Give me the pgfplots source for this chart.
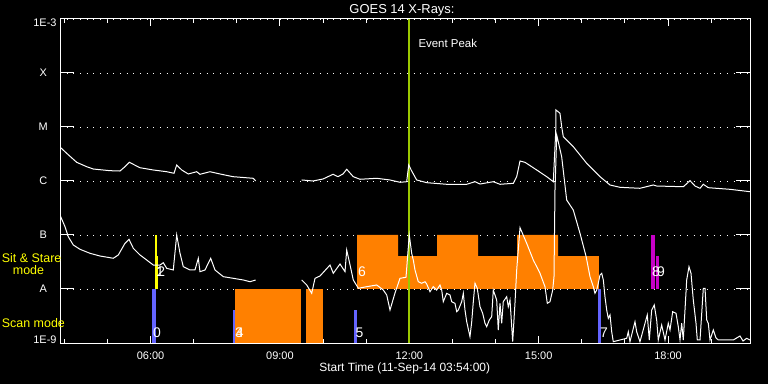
\documentclass[border=0pt]{standalone}
\usepackage{pgfplots}
\pgfplotsset{compat=1.18}
\usepackage{fontspec}
\setmainfont{Liberation Sans}
\definecolor{orng}{RGB}{255,128,0}
\definecolor{scanblue}{RGB}{100,100,255}
\definecolor{ssyellow}{RGB}{255,255,0}
\definecolor{mag}{RGB}{200,0,200}
\definecolor{evt}{RGB}{155,200,0}
\newcommand{\lab}[1]{\makebox[26.5bp][c]{#1}}
\begin{document}
\begin{tikzpicture}
\fill[black] (0,0) rectangle (768bp,384bp);
\begin{axis}[
  at={(60bp,41bp)}, anchor=south west,
  scale only axis, width=690bp, height=324bp,
  xmin=3.9, xmax=19.9, ymin=-9, ymax=-3,
  axis line style={white, line width=1bp},
  tick style={white, line width=1bp},
  xtick={6,9,12,15,18},
  xticklabels={06:00,09:00,12:00,15:00,18:00},
  minor xtick={4,5,7,8,10,11,13,14,16,17,19},
  xtick style={/pgfplots/major tick length=7bp, /pgfplots/minor tick length=4bp},
  ytick={-9,-8,-7,-6,-5,-4,-3},
  yticklabels={,\lab{A},\lab{B},\lab{C},\lab{M},\lab{X},},
  ytick style={/pgfplots/major tick length=14bp},
  ymajorgrids,
  grid style={white, line width=0.9bp, dash pattern=on 0.9bp off 5.77bp},
  ticklabel style={text=white, font=\fontsize{11}{13}\selectfont},
  xticklabel style={anchor=center, yshift=-12.7bp},
  yticklabel style={anchor=east, inner sep=0pt, xshift=-3.3bp},
  /pgf/number format/assume math mode=true,
  unbounded coords=jump,
]
% Scan-mode orange blocks
\addplot[fill=orng, draw=none] coordinates {(7.958,-9) (9.488,-9) (9.488,-8) (7.958,-8)} -- cycle;
\addplot[fill=orng, draw=none] coordinates {(9.604,-9) (9.999,-9) (9.999,-8) (9.604,-8)} -- cycle;
% Sit & Stare orange staircase
\addplot[fill=orng, draw=none] coordinates {(10.787,-8) (10.787,-7) (11.738,-7) (11.738,-7.39) (12.642,-7.39) (12.642,-7) (13.593,-7) (13.593,-7.39) (14.497,-7.39) (14.497,-7) (15.448,-7) (15.448,-7.39) (16.398,-7.39) (16.398,-8)} -- cycle;
% Scan blue bars
\addplot[fill=scanblue, draw=none] coordinates {(6.033,-9) (6.126,-9) (6.126,-8) (6.033,-8)} -- cycle;
\addplot[fill=scanblue, draw=none] coordinates {(7.912,-9) (7.958,-9) (7.958,-8.389) (7.912,-8.389)} -- cycle;
\addplot[fill=scanblue, draw=none] coordinates {(10.717,-9) (10.780,-9) (10.780,-8.389) (10.717,-8.389)} -- cycle;
\addplot[fill=scanblue, draw=none] coordinates {(16.375,-9) (16.438,-9) (16.438,-8) (16.375,-8)} -- cycle;
% Sit & Stare yellow bars
\addplot[fill=ssyellow, draw=none] coordinates {(6.103,-8) (6.140,-8) (6.140,-7) (6.103,-7)} -- cycle;
\addplot[fill=ssyellow, draw=none] coordinates {(6.140,-8) (6.170,-8) (6.170,-7.39) (6.140,-7.39)} -- cycle;
% magenta bars
\addplot[fill=mag, draw=none] coordinates {(17.604,-8) (17.690,-8) (17.690,-7) (17.604,-7)} -- cycle;
\addplot[fill=mag, draw=none] coordinates {(17.720,-8) (17.783,-8) (17.783,-7.39) (17.720,-7.39)} -- cycle;
% Event peak
\addplot[evt, line width=2.3bp] coordinates {(11.99,-9) (11.99,-3)};
% long channel
\addplot[white, line width=1bp] table {
3.916 -5.383
4.055 -5.487
4.287 -5.654
4.519 -5.735
4.672 -5.778
5.059 -5.809
5.291 -5.815
5.407 -5.735
5.507 -5.654
5.755 -5.754
6.063 -5.796
6.374 -5.828
6.543 -5.857
6.606 -5.704
6.722 -5.796
6.875 -5.870
7.070 -5.828
7.146 -5.876
7.378 -5.828
7.610 -5.870
7.912 -5.920
8.382 -5.950
8.438 -6.000
9.000 nan
9.505 -5.981
9.767 -6.000
9.999 -5.963
10.231 -5.876
10.346 -5.920
10.462 -5.870
10.548 -5.783
10.701 -5.920
10.856 -5.968
11.244 -5.950
11.552 -5.981
11.784 -6.024
11.939 -6.013
11.986 -5.704
12.055 -5.815
12.171 -5.981
12.403 -6.031
12.867 -6.061
13.331 -6.061
13.523 -6.013
13.639 -6.056
13.947 -6.013
14.103 -6.061
14.411 -6.043
14.490 -5.920
14.567 -5.630
14.683 -5.654
14.954 -5.796
15.186 -5.920
15.339 -6.013
15.395 -5.087
15.401 -4.685
15.494 -4.746
15.533 -4.994
15.571 -5.180
15.803 -5.365
16.113 -5.672
16.422 -5.920
16.654 -6.074
16.886 -6.117
17.349 -6.135
17.658 -6.074
17.737 -6.093
18.354 -6.106
18.509 -5.994
18.625 -6.093
18.741 -6.135
18.817 -6.061
18.933 -6.124
19.436 -6.154
19.900 -6.198
};
% short channel
\addplot[white, line width=1bp] table {
3.916 -6.661
4.016 -6.846
4.092 -7.031
4.208 -7.185
4.364 -7.265
4.596 -7.339
4.828 -7.389
5.136 -7.431
5.252 -7.370
5.407 -7.154
5.500 -7.080
5.600 -7.246
5.755 -7.370
5.910 -7.463
6.063 -7.556
6.219 -7.556
6.295 -7.513
6.374 -7.617
6.527 -7.648
6.606 -7.000
6.683 -7.339
6.759 -7.587
6.914 -7.648
7.030 -7.648
7.107 -7.431
7.146 -7.680
7.262 -7.648
7.394 -7.431
7.494 -7.648
7.687 -7.772
7.919 -7.802
8.150 -7.833
8.306 -7.865
8.438 -7.833
9.000 nan
9.505 -7.833
9.621 -7.926
9.737 -8.080
9.813 -7.802
9.929 -7.759
10.161 -7.556
10.237 -7.709
10.393 -7.537
10.509 -7.680
10.548 -7.278
10.609 -7.494
10.701 -7.833
10.818 -7.987
11.012 -7.957
11.244 -7.926
11.397 -8.019
11.476 -8.111
11.552 -8.389
11.668 -8.074
11.784 -7.802
11.923 -7.783
11.999 -7.000
12.055 -7.339
12.092 -7.463
12.132 -7.648
12.208 -7.865
12.287 -7.894
12.364 -7.865
12.403 -7.907
12.480 -8.050
12.556 -7.957
12.635 -8.019
12.711 -7.926
12.751 -8.019
12.788 -8.235
12.867 -8.080
12.943 -8.111
12.983 -8.235
13.059 -8.265
13.099 -8.420
13.136 -8.389
13.215 -8.235
13.252 -8.080
13.291 -8.389
13.331 -8.606
13.407 -8.883
13.447 -8.606
13.484 -8.235
13.523 -7.894
13.576 -7.987
13.639 -8.328
13.701 -8.450
13.755 -8.635
13.794 -8.698
13.855 -8.574
13.910 -8.513
13.947 -8.019
14.026 -8.204
14.063 -8.759
14.103 -8.265
14.142 -8.635
14.179 -8.235
14.258 -8.143
14.295 -8.328
14.335 -8.204
14.397 -8.976
14.450 -8.265
14.490 -7.648
14.567 -6.865
14.722 -7.154
14.875 -7.463
15.030 -7.709
15.146 -7.957
15.200 -8.265
15.262 -8.235
15.325 -8.019
15.355 -7.772
15.378 -6.167
15.418 -5.148
15.533 -5.550
15.649 -6.352
15.802 -6.537
15.958 -6.969
16.100 -7.400
16.190 -7.772
16.266 -7.957
16.305 -8.080
16.345 -8.019
16.382 -7.894
16.422 -7.741
16.461 -7.709
16.499 -7.833
16.537 -8.143
16.577 -8.389
16.614 -8.543
16.654 -8.481
16.693 -8.791
16.730 -8.976
16.885 -8.944
17.041 -8.913
17.078 -8.791
17.117 -8.976
17.233 -8.606
17.272 -8.791
17.349 -8.976
17.518 -8.481
17.565 -8.944
17.620 -8.389
17.680 -8.296
17.736 -8.574
17.773 -8.944
17.852 -8.667
17.929 -8.944
18.005 -8.635
18.045 -8.759
18.107 -8.420
18.184 -8.450
18.237 -8.698
18.277 -8.944
18.316 -8.635
18.353 -8.944
18.432 -7.833
18.485 -7.587
18.532 -7.709
18.585 -8.204
18.648 -8.635
18.678 -8.944
18.741 -8.944
18.817 -7.987
18.857 -7.987
18.896 -8.574
18.933 -8.635
18.972 -8.944
19.049 -8.759
19.112 -8.907
19.165 -8.944
19.513 -8.944
19.668 -8.870
19.738 -8.963
19.823 -8.913
19.900 -8.944
};
% observation numbers
\begin{scope}[every node/.style={text=white, font=\fontsize{14}{16}\selectfont, inner sep=0pt}]
\node at (axis cs:6.149,-8.815) {0};
\node at (axis cs:6.22,-7.685) {1};
\node at (axis cs:6.25,-7.685) {2};
\node at (axis cs:8.05,-8.806) {3};
\node at (axis cs:8.07,-8.806) {4};
\node at (axis cs:10.845,-8.815) {5};
\node at (axis cs:10.903,-7.685) {6};
\node at (axis cs:16.515,-8.815) {7};
\node at (axis cs:17.72,-7.685) {8};
\node at (axis cs:17.836,-7.685) {9};
\end{scope}
\end{axis}
\node[anchor=base, text=white, font=\fontsize{13}{15}\selectfont] at (402bp,370bp) {GOES 14 X-Rays:};
\node[anchor=base, text=white, font=\fontsize{12}{14}\selectfont] at (404.7bp,12.3bp) {Start Time (11-Sep-14 03:54:00)};
\node[anchor=base west, inner sep=0pt, text=white, font=\fontsize{11.5}{13}\selectfont] at (418.3bp,336.7bp) {Event Peak};
\node[anchor=base west, inner sep=0pt, text=ssyellow, font=\fontsize{12.5}{14}\selectfont] at (1.7bp,121.3bp) {Sit \& Stare};
\node[anchor=base west, inner sep=0pt, text=ssyellow, font=\fontsize{12.5}{14}\selectfont] at (12.7bp,109bp) {mode};
\node[anchor=base west, inner sep=0pt, text=ssyellow, font=\fontsize{12.5}{14}\selectfont] at (1.7bp,56.7bp) {Scan mode};
\node[anchor=base east, inner sep=0pt, text=white, font=\fontsize{11}{13}\selectfont] at (56.7bp,357.3bp) {1E-3};
\node[anchor=base east, inner sep=0pt, text=white, font=\fontsize{11}{13}\selectfont] at (56.7bp,40.7bp) {1E-9};
\pgfresetboundingbox
\path (0,0) rectangle (768bp,384bp);
\end{tikzpicture}
\end{document}
